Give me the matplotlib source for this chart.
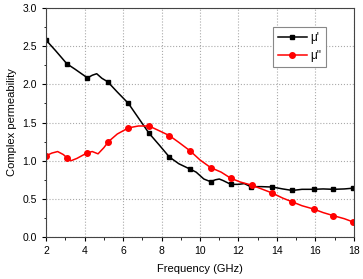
import matplotlib
matplotlib.use('Agg')
import matplotlib.pyplot as plt
import numpy as np

plt.rcParams['font.family'] = ['Liberation Sans', 'DejaVu Sans']

# mu' (real part)
freq_re = [2.0, 2.5, 3.08, 3.5, 4.15, 4.4, 4.63, 4.9, 5.2, 5.7, 6.28, 6.8, 7.35,
           7.9, 8.4, 8.9, 9.48, 9.8, 10.2, 10.55, 10.8, 11.0, 11.2, 11.6, 12.0,
           12.3, 12.63, 13.2, 13.76, 14.3, 14.8, 15.3, 15.9, 16.4, 16.93, 17.5, 17.96]
mu_re = [2.58, 2.44, 2.27, 2.20, 2.085, 2.12, 2.14, 2.08, 2.035, 1.90, 1.75, 1.56, 1.36,
         1.20, 1.05, 0.96, 0.89, 0.85, 0.76, 0.725, 0.75, 0.76, 0.74, 0.69, 0.69,
         0.70, 0.66, 0.66, 0.655, 0.63, 0.61, 0.625, 0.625, 0.63, 0.625, 0.63, 0.64]
mark_re = [2.0, 3.08, 4.15, 5.2, 6.28, 7.35, 8.4, 9.48, 10.55, 11.6, 12.63,
           13.76, 14.8, 15.9, 16.93, 17.96]

# mu'' (imaginary part)
freq_im = [2.0, 2.3, 2.6, 2.9, 3.07, 3.3, 3.6, 4.15, 4.4, 4.7, 5.0, 5.24, 5.7, 6.28,
           6.8, 7.35, 7.9, 8.4, 8.9, 9.48, 10.0, 10.55, 11.1, 11.6, 12.1, 12.68,
           13.2, 13.72, 14.3, 14.8, 15.3, 15.9, 16.4, 16.93, 17.5, 17.96]
mu_im = [1.065, 1.10, 1.12, 1.08, 1.04, 1.00, 1.03, 1.105, 1.12, 1.09, 1.17, 1.25, 1.35, 1.43,
         1.455, 1.455, 1.39, 1.33, 1.24, 1.13, 1.01, 0.91, 0.85, 0.77, 0.72, 0.68,
         0.63, 0.58, 0.51, 0.46, 0.41, 0.367, 0.32, 0.28, 0.24, 0.197]
mark_im = [2.0, 3.07, 4.15, 5.24, 6.28, 7.35, 8.4, 9.48, 10.55, 11.6, 12.68,
           13.72, 14.8, 15.9, 16.93, 17.96]

fig = plt.figure(figsize=(3.63, 2.79), dpi=100)
ax = fig.add_axes([0.127, 0.1505, 0.848, 0.8205])

ax.plot(freq_re, mu_re, color='black', lw=1.1, marker='s', ms=3.5,
        markevery=list(np.where(np.isin(freq_re, mark_re))[0]), label="\u03bc'")
ax.plot(freq_im, mu_im, color='red', lw=1.1, marker='o', ms=4,
        markevery=list(np.where(np.isin(freq_im, mark_im))[0]), label="\u03bc''")

ax.set_xlim(2, 18)
ax.set_ylim(0, 3.0)
ax.set_xticks(np.arange(2, 19, 2))
ax.set_yticks(np.arange(0, 3.01, 0.5))
ax.set_xticks(np.arange(3, 18, 2), minor=True)
ax.set_yticks(np.arange(0.25, 3.0, 0.5), minor=True)
ax.tick_params(which='both', direction='out', labelsize=7.5, top=False, right=False)
ax.tick_params(which='major', length=3)
ax.tick_params(which='minor', length=1.8)
ax.grid(True, which='major', linestyle=':', color='#aaaaaa', lw=0.8)
for s in ax.spines.values():
    s.set_color('#444444')

ax.set_xlabel('Frequency (GHz)', fontsize=8, labelpad=6)
ax.set_ylabel('Complex permeability', fontsize=8, labelpad=4)

leg = ax.legend(loc='upper left', bbox_to_anchor=(0.737, 0.917), borderaxespad=0,
                fontsize=8.5, fancybox=False, framealpha=1, edgecolor='#888888',
                handlelength=2.5, borderpad=0.4, labelspacing=0.55, handletextpad=0.3)
leg.get_frame().set_linewidth(0.8)

fig.savefig('out.png', dpi=100)
